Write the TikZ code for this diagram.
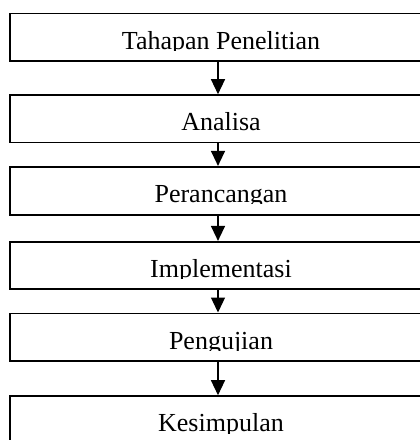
\documentclass[tikz,border=0pt]{standalone}
\usepackage{fontspec}
\setmainfont{Liberation Serif}
\usetikzlibrary{arrows.meta}
\tikzset{
  stagebox/.style={draw=black, line width=1.6pt, fill=white, minimum width=422pt, inner sep=0pt},
  stagetext/.style={anchor=base, inner sep=0pt, font=\fontsize{26}{30}\selectfont},
  flow/.style={line width=1.3pt, -{Triangle[width=14pt,length=15pt]}}
}
% boxed label whose text is cut off just below its baseline
\newcommand{\stage}[4]{%
  \node[stagebox, minimum height=#3pt] (#1) at (221,-#2) {};
  \begin{scope}
    \clip ([yshift=-0.8pt]#1.north west) rectangle ([yshift=-38pt]#1.north east);
    \node[stagetext] (#1t) at ([yshift=-36.5pt]#1.north) {#4};
  \end{scope}}
\begin{document}
\begin{tikzpicture}[x=1pt,y=1pt]
  \useasboundingbox (0,0) rectangle (420,-440);
  \clip (0,0) rectangle (420,-440);
  \stage{s1}{37}{47.4}{Tahapan Penelitian}
  \stage{s2}{118.65}{47.3}{Analisa}
  \stage{s3}{190.85}{48.3}{Perancangan}
  \stage{s4}{265.2}{47}{Implementasi}
  \stage{s5}{337}{47.4}{Pengujian}
  \stage{s6}{419.7}{47.4}{Kesimpulan}
  \foreach \a/\b in {s1/s2, s2/s3, s3/s4, s4/s5, s5/s6}
    \draw[flow] ([xshift=-3pt]\a.south) -- ([xshift=-3pt]\b.north);
\end{tikzpicture}
\end{document}
